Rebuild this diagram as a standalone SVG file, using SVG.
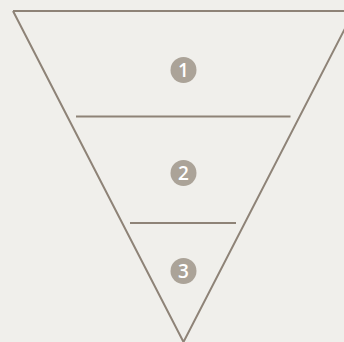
<svg xmlns="http://www.w3.org/2000/svg" width="344" height="342" viewBox="0 0 344 342">
<style>
.ln{stroke:#8e8377;stroke-width:2;fill:none}
.badge circle{fill:#aba398}
.badge text{fill:#ffffff;font-family:"Open Sans","DejaVu Sans",sans-serif;font-size:19px;font-weight:600;text-anchor:middle;dominant-baseline:central}
</style>
<rect width="344" height="342" fill="#f0efeb"/>
<g id="connectors">
<polyline class="ln" points="13,11 354,11 183.5,342 13,11"/>
<line class="ln" x1="76" y1="116.5" x2="290.5" y2="116.5"/>
<line class="ln" x1="130" y1="223" x2="236" y2="223"/>
</g>
<g id="node1" class="badge"><circle cx="183.5" cy="70" r="13"/><text x="183.5" y="70">1</text></g>
<g id="node2" class="badge"><circle cx="183.5" cy="173" r="13"/><text x="183.5" y="173">2</text></g>
<g id="node3" class="badge"><circle cx="183.5" cy="271" r="13"/><text x="183.5" y="271">3</text></g>
</svg>
